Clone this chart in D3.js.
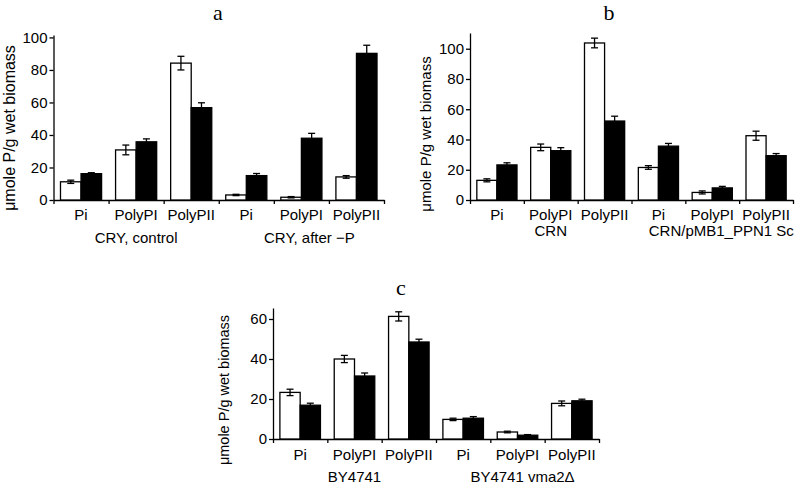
<!DOCTYPE html>
<html>
<head>
<meta charset="utf-8">
<script src="https://cdn.jsdelivr.net/npm/d3@7"></script>
<style>
  html, body { margin: 0; padding: 0; background: #fff; }
  svg { display: block; }
  text { font-family: "Liberation Sans", Arial, Helvetica, sans-serif; fill: #000; }
</style>
</head>
<body>
<svg id="chart" width="795" height="491"></svg>
<script>
// ---------- data ----------
const categories = ["Pi", "PolyPI", "PolyPII", "Pi", "PolyPI", "PolyPII"];
const seriesNames = ["white", "black"];

const groupsA = ["CRY, control", "CRY, after \u2212P"];
const whiteA = [11.2, 30.8, 84.2, 3.1, 1.7, 14.2];
const whiteErrA = [1.0, 3.0, 4.2, 0.4, 0.4, 0.8];
const blackA = [16.2, 35.8, 56.8, 15.0, 38.0, 90.2];
const blackErrA = [0.6, 1.8, 3.0, 1.3, 3.0, 5.0];
const ticksA = [0, 20, 40, 60, 80, 100];

const groupsB = ["CRN", "CRN/pMB1_PPN1 Sc"];
const whiteB = [13.0, 34.8, 103.8, 21.5, 5.0, 42.5];
const whiteErrB = [1.0, 2.2, 3.2, 1.2, 1.0, 3.0];
const blackB = [23.2, 32.6, 52.2, 35.6, 8.0, 29.3];
const blackErrB = [1.4, 2.0, 3.2, 1.8, 1.0, 1.4];
const ticksB = [0, 20, 40, 60, 80, 100];

const groupsC = ["BY4741", "BY4741 vma2\u0394"];
const whiteC = [23.3, 40.0, 61.3, 9.8, 3.5, 17.8];
const whiteErrC = [1.6, 1.8, 2.3, 0.6, 0.4, 1.2];
const blackC = [16.9, 31.5, 48.5, 10.4, 1.9, 19.1];
const blackErrC = [1.0, 1.5, 1.4, 0.8, 0.3, 0.8];
const ticksC = [0, 20, 40, 60];

// ---------- layout ----------
const panels = [
  { title: "a", groups: groupsA, white: whiteA, whiteErr: whiteErrA, black: blackA, blackErr: blackErrA, ticks: ticksA,
    x0: 53.5, x1: 384, y0: 200, yTop: 35, vTop: 101.5,
    titleX: 218, titleY: 20, ylabX: 15, ylabY: 128, ylabSize: 16,
    catY: 220, grpY: 243, grpShift: [0, 8] },
  { title: "b", groups: groupsB, white: whiteB, whiteErr: whiteErrB, black: blackB, blackErr: blackErrB, ticks: ticksB,
    x0: 470, x1: 793, y0: 200, yTop: 33, vTop: 110.4,
    titleX: 609, titleY: 20, ylabX: 431, ylabY: 134, ylabSize: 15,
    catY: 220, grpY: 236, grpShift: [0, 9] },
  { title: "c", groups: groupsC, white: whiteC, whiteErr: whiteErrC, black: blackC, blackErr: blackErrC, ticks: ticksC,
    x0: 273, x1: 599, y0: 439, yTop: 308, vTop: 65.5,
    titleX: 401, titleY: 295, ylabX: 229, ylabY: 390, ylabSize: 14.5,
    catY: 460, grpY: 482, grpShift: [0, 5] }
];

const svg = d3.select("#chart");

panels.forEach(p => {
  const g = svg.append("g");
  const idx = categories.map((c, i) => i);

  const x = d3.scaleBand().domain(idx).range([p.x0, p.x1]).paddingInner(0).paddingOuter(0);
  const xs = d3.scaleBand().domain(seriesNames).range([0, x.bandwidth()]).paddingOuter(0.34).paddingInner(0);
  const xb = d3.scaleLinear().domain([0, categories.length]).range([p.x0, p.x1]);
  const y = d3.scaleLinear().domain([0, p.vTop]).range([p.y0, p.yTop]);

  // y axis
  const ya = g.append("g")
    .attr("transform", `translate(${p.x0},0)`)
    .call(d3.axisLeft(y).tickValues(p.ticks).tickSize(4).tickSizeOuter(0).tickPadding(2).tickFormat(d3.format("d")));
  ya.selectAll("path, line").attr("stroke", "#000").attr("stroke-width", 1.3);
  ya.selectAll("text").style("font-size", "15px").style("font-family", "'Liberation Sans', Arial, sans-serif").attr("fill", "#000");

  // x axis (boundary ticks)
  const xa = g.append("g")
    .attr("transform", `translate(0,${p.y0})`)
    .call(d3.axisBottom(xb).tickValues(d3.range(categories.length + 1)).tickSize(4).tickSizeOuter(0).tickFormat(""));
  xa.selectAll("path, line").attr("stroke", "#000").attr("stroke-width", 1.3);

  // bars
  const series = [
    { key: "white", vals: p.white, errs: p.whiteErr, fill: "#fff" },
    { key: "black", vals: p.black, errs: p.blackErr, fill: "#000" }
  ];
  series.forEach(s => {
    const sg = g.append("g");
    sg.selectAll("rect").data(idx).join("rect")
      .attr("x", i => x(i) + xs(s.key))
      .attr("width", xs.bandwidth())
      .attr("y", i => y(s.vals[i]))
      .attr("height", i => y(0) - y(s.vals[i]))
      .attr("fill", s.fill)
      .attr("stroke", "#000")
      .attr("stroke-width", 1.3);
    const cap = 3.5;
    const eg = sg.selectAll("g.err").data(idx).join("g").attr("class", "err");
    eg.append("line")
      .attr("x1", i => x(i) + xs(s.key) + xs.bandwidth() / 2)
      .attr("x2", i => x(i) + xs(s.key) + xs.bandwidth() / 2)
      .attr("y1", i => y(s.vals[i] - s.errs[i]))
      .attr("y2", i => y(s.vals[i] + s.errs[i]))
      .attr("stroke", "#000").attr("stroke-width", 1.3);
    [1, -1].forEach(sign => {
      eg.append("line")
        .attr("x1", i => x(i) + xs(s.key) + xs.bandwidth() / 2 - cap)
        .attr("x2", i => x(i) + xs(s.key) + xs.bandwidth() / 2 + cap)
        .attr("y1", i => y(s.vals[i] + sign * s.errs[i]))
        .attr("y2", i => y(s.vals[i] + sign * s.errs[i]))
        .attr("stroke", "#000").attr("stroke-width", 1.3);
    });
  });

  // category labels
  g.selectAll("text.cat").data(idx).join("text")
    .attr("class", "cat")
    .attr("x", i => x(i) + x.bandwidth() / 2)
    .attr("y", p.catY)
    .attr("text-anchor", "middle")
    .style("font-size", "15px")
    .text(i => categories[i]);

  // group labels
  g.selectAll("text.grp").data(p.groups).join("text")
    .attr("class", "grp")
    .attr("x", (d, k) => (xb(k * 3) + xb(k * 3 + 3)) / 2 + p.grpShift[k])
    .attr("y", p.grpY)
    .attr("text-anchor", "middle")
    .style("font-size", "15px")
    .text(d => d);

  // y label
  g.append("text")
    .attr("transform", `translate(${p.ylabX},${p.ylabY}) rotate(-90)`)
    .attr("text-anchor", "middle")
    .style("font-size", p.ylabSize + "px")
    .text("\u03bcmole P/g wet biomass");

  // title
  g.append("text")
    .attr("x", p.titleX)
    .attr("y", p.titleY)
    .attr("text-anchor", "middle")
    .style("font-family", "'Liberation Serif', 'Times New Roman', serif")
    .style("font-size", "22px")
    .text(p.title);
});
</script>
</body>
</html>
